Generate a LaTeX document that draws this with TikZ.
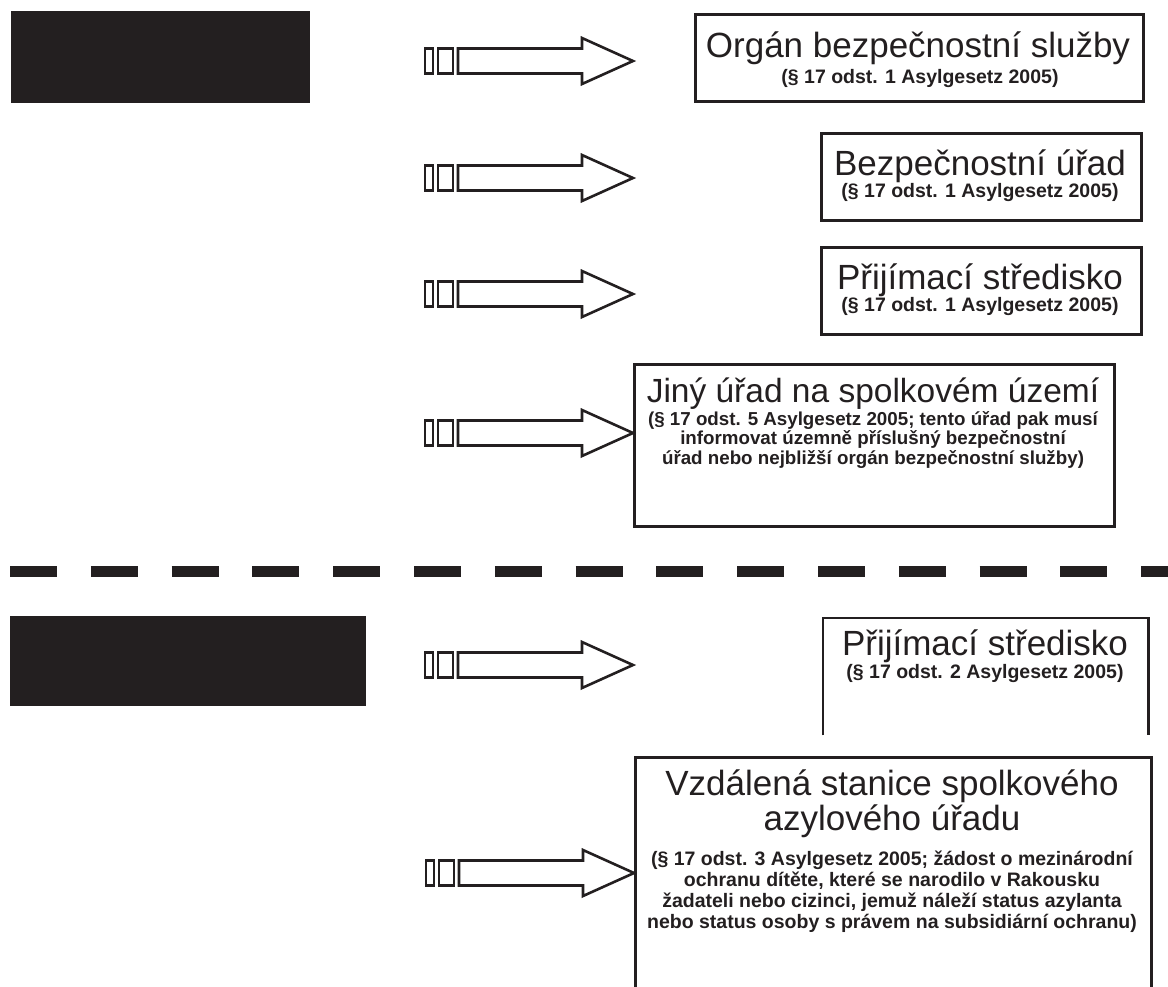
\documentclass[tikz,border=0pt]{standalone}
\usepackage{fontspec}
\setmainfont{Liberation Sans}
\definecolor{ink}{RGB}{35,31,32}
\lineskiplimit=-100pt
\tikzset{
  box/.style={draw=ink, line width=2.6pt, inner sep=0pt, anchor=north west},
  openbox/.style={draw=none, inner sep=0pt, anchor=north west},
  boxline/.style={draw=ink, line width=2.6pt, line join=miter},
  solidbox/.style={fill=ink, draw=none, inner sep=0pt, anchor=north west},
  maintxt/.style={font=\fontsize{35}{35}\selectfont, text=ink, inner sep=0pt, align=center, anchor=north},
  maintxtsm/.style={maintxt, font=\fontsize{33.5}{35}\selectfont},
  subtxt/.style={font=\bfseries\fontsize{19.5}{20.5}\selectfont, text=ink, inner sep=0pt, align=center, anchor=north},
  subtxtsm/.style={subtxt, font=\bfseries\fontsize{18.75}{19.5}\selectfont},
  subtxtwide/.style={subtxt, font=\bfseries\fontsize{19.5}{21}\selectfont},
  arrline/.style={draw=ink, line width=2.6pt, line join=miter},
  blockarrow/.pic={
    \draw[arrline] (-208,-12.5) rectangle (-200,12.5);
    \draw[arrline] (-195,-12.5) rectangle (-180,12.5);
    \draw[arrline] (-175,-12.5) -- (-51,-12.5) -- (-51,-23) -- (0,0) -- (-51,23) -- (-51,12.5) -- (-175,12.5) -- cycle;
  }
}
\newcommand{\mainstrut}{\lineskiplimit=-100pt\relax\rule{0pt}{28pt}}
\newcommand{\substrut}{\lineskiplimit=-100pt\relax\rule{0pt}{15.5pt}}
\begin{document}
\begin{tikzpicture}[x=1pt, y=-1pt]
\useasboundingbox (0,0) rectangle (1168,986);
% solid black blocks
\node[solidbox, minimum width=299, minimum height=92] (k1) at (11,11) {};
\node[solidbox, minimum width=356, minimum height=90] (k2) at (10,616) {};
% dashed separator
\coordinate (dl) at (10,571);
\coordinate (dr) at (1168,571);
\draw[ink, line width=11pt, dash pattern=on 47pt off 33.8pt] (dl) -- (dr);
% boxes
\node[box, minimum width=448, minimum height=87] (b1) at (694,13) {};
\node[box, minimum width=320, minimum height=87] (b2) at (820,132) {};
\node[box, minimum width=320, minimum height=87] (b3) at (820,246) {};
\node[box, minimum width=480, minimum height=162] (b4) at (633,363) {};
\node[openbox, minimum width=325, minimum height=117] (b5) at (823,618) {};
\draw[boxline] (b5.south west) -- (b5.north west) -- (b5.north east) -- (b5.south east);
\node[box, minimum width=516, minimum height=250] (b6) at (634,756) {};
% texts
\node[maintxt] (m1) at (918,29) {\mainstrut Orgán bezpečnostní služby};
\node[subtxt] (s1) at (920,67.5) {\substrut(§ 17 odst. 1 Asylgesetz 2005)};
\node[maintxt] (m2) at (980,147) {\mainstrut Bezpečnostní úřad};
\node[subtxt] (s2) at (980,181.5) {\substrut(§ 17 odst. 1 Asylgesetz 2005)};
\node[maintxt] (m3) at (980,261) {\mainstrut Přijímací středisko};
\node[subtxt] (s3) at (980,295.5) {\substrut(§ 17 odst. 1 Asylgesetz 2005)};
\node[maintxtsm] (m4) at (873,374) {\mainstrut Jiný úřad na spolkovém území};
\node[subtxtsm] (s4) at (873,409.5) {\substrut(§ 17 odst. 5 Asylgesetz 2005; tento úřad pak musí\\ informovat územně příslušný bezpečnostní\\ úřad nebo nejbližší orgán bezpečnostní služby)};
\node[maintxt] (m5) at (985,627) {\mainstrut Přijímací středisko};
\node[subtxt] (s5) at (985,662.5) {\substrut(§ 17 odst. 2 Asylgesetz 2005)};
\node[maintxt] (m6) at (892,767) {\mainstrut Vzdálená stanice spolkového\\ azylového úřadu};
\node[subtxtwide] (s6) at (892,849.5) {\substrut(§ 17 odst. 3 Asylgesetz 2005; žádost o mezinárodní\\ ochranu dítěte, které se narodilo v Rakousku\\ žadateli nebo cizinci, jemuž náleží status azylanta\\ nebo status osoby s právem na subsidiární ochranu)};
% arrows
\pic at (633,61) {blockarrow};
\pic at (633,178) {blockarrow};
\pic at (633,294) {blockarrow};
\pic at (b4.west |- 0,433) {blockarrow};
\pic at (633,665) {blockarrow};
\pic at (b6.west |- 0,873) {blockarrow};
\end{tikzpicture}
\end{document}
